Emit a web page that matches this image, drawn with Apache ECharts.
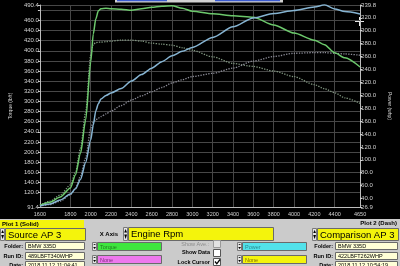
<!DOCTYPE html>
<html><head><meta charset="utf-8">
<script src="https://cdn.jsdelivr.net/npm/echarts@6/dist/echarts.min.js"></script>
<style>html,body{margin:0;padding:0;background:#000;}#c{width:400px;height:266px;}</style>
</head><body><div id="c"></div>
<script>
// ---- data ----
const rpm = [1500,1600,1700,1800,1850,1900,1950,2000,2025,2050,2075,2100,2150,2200,2300,2400,2500,2600,2700,2800,2900,3000,3200,3400,3600,3800,4000,4200,4300,4400,4500,4650];
const torqueSource = [95,101,111,129,155,198,263,378,433,463,479,483,484,483,482,480,483,486,488,489,484,478,473,469,466,451,435,421,412,396,386,368];
const torqueComparison = [95,103,115,135,160,208,279,392,413,416,417,417,418,419,421,421,419,415,413,411,406,401,388,375,369,360,349,333,325,317,307,296];
const powerSource = [28.4,31.5,37.7,47,55,70,96,131,154,176,187,194,199.6,203.5,210.5,222,232,242,252,261,268,274,289.5,306,319.7,326.6,331.3,336.7,340,333.6,329.7,326];
const powerComparison = [28.4,30.8,36,46,56,75,103,149,158,162,164.5,167,171,175.5,184,192.5,199,205.5,212,219,224,229,234,242,253,260,265,266,266,265,264,262];

const xTickValues = [1500,1800,2000,2200,2400,2600,2800,3000,3200,3400,3600,3800,4000,4200,4400,4650];
const xTickLabels = ['1600','1800','2000','2200','2400','2600','2800','3000','3200','3400','3600','3800','4000','4200','4400','4650'];
const torqueTicks = [91.4,120,140,160,180,200,220,240,260,280,300,320,340,360,380,400,420,440,460,480,490.4];
const torqueLabels = [91.4,120,140,160,180,200,220,240,260,280,300,320,340,360,380,400,420,440,460,490.4];
const powerTicks = [26.9,40,60,80,100,120,140,160,180,200,220,240,260,280,300,320,339.8];

const panelTexts = {
  plot1: 'Plot 1 (Solid)', plot2: 'Plot 2 (Dash)',
  source: 'Source AP 3', comparison: 'Comparison AP 3', xAxis: 'X Axis', xChannel: 'Engine Rpm',
  folder1: 'BMW 335D', run1: '489LBFT340WHP', date1: '2018.11.12 11:04:41',
  folder2: 'BMW 335D', run2: '422LBFT262WHP', date2: '2018.11.12 10:54:19',
  ch1: 'Torque', ch2: 'None', ch3: 'Power', ch4: 'None'
};

// ---- helpers for the control panel ----
const F = 'Liberation Sans, Arial, sans-serif';
function rect(x,y,w,h,fill,stroke){return {type:'rect',silent:true,shape:{x:x,y:y,width:w,height:h},style:{fill:fill,stroke:stroke||null,lineWidth:1}};}
function text(x,y,t,size,color,opts){opts=opts||{};return {type:'text',silent:true,style:{x:x,y:y,text:t,fill:color||'#000',font:(opts.weight||'normal')+' '+size+'px '+F,align:opts.align||'left',verticalAlign:'middle'}};}
function spinner(x,y,h){
  const m=y+h/2;
  return [rect(x+0.5,y+0.5,4,h,'#e4e4e4','#7a7a7a'),
    {type:'polygon',silent:true,shape:{points:[[x+1.2,m-1],[x+4,m-1],[x+2.6,y+2]]},style:{fill:'#000'}},
    {type:'polygon',silent:true,shape:{points:[[x+1.2,m+1],[x+4,m+1],[x+2.6,y+h-1]]},style:{fill:'#000'}}];
}
function field(x,y,w,h,fill,t,size,color){return [rect(x+0.5,y+0.5,w,h,fill,'#6a6a6a'),text(x+3,y+h/2+1,t,size,color||'#000')];}

const YEL='#f4f40c', PALE='#ffffd6';
let g = [];
g.push(rect(0,219,400,47,'#cbcbcb'));
// top header strip (cut off in the reference)
g.push(rect(115,0,168,2.5,'#d2d2d2'));
g.push(rect(117,0,50,1.2,'#3a5ad0'));
g.push(rect(215,0,65,1.2,'#3a5ad0'));
// plot 1
g.push(rect(0,220,84,8,YEL));
g.push(text(2,224.5,panelTexts.plot1,6,'#000',{weight:'bold'}));
g = g.concat(spinner(0,228,12));
g = g.concat(field(5,228,80,12,YEL,panelTexts.source,9.5));
// x axis selector
g.push(text(118,234,panelTexts.xAxis,6,'#000',{weight:'bold',align:'right'}));
g = g.concat(spinner(123,227,13));
g = g.concat(field(128,227,145,13,YEL,panelTexts.xChannel,9.5));
// plot 2
g.push(text(397,223.5,panelTexts.plot2,6,'#000',{weight:'bold',align:'right'}));
g = g.concat(spinner(312,228,12));
g = g.concat(field(317,228,81,12,YEL,panelTexts.comparison,9.5));
// left info
g.push(text(23,246,'Folder:',5.5,'#000',{weight:'bold',align:'right'}));
g = g.concat(field(25,242,59,7,PALE,panelTexts.folder1,5.5));
g.push(text(23,256,'Run ID:',5.5,'#000',{weight:'bold',align:'right'}));
g = g.concat(field(25,252,59,7,PALE,panelTexts.run1,5.5));
g.push(text(23,265,'Date:',5.5,'#000',{weight:'bold',align:'right'}));
g = g.concat(field(25,261,59,7,PALE,panelTexts.date1,5.5));
// channel boxes
g = g.concat(spinner(92,242,8));
g = g.concat(field(97,242,64,8,'#3ee63e',panelTexts.ch1,5.5,'#208020'));
g = g.concat(spinner(92,255,8));
g = g.concat(field(97,255,64,8,'#ee78ee',panelTexts.ch2,5.5,'#803080'));
g = g.concat(spinner(237,242,8));
g = g.concat(field(242,242,64,8,'#52e2ea',panelTexts.ch3,5.5,'#2a8a90'));
g = g.concat(spinner(237,255,8));
g = g.concat(field(242,255,64,8,YEL,panelTexts.ch4,5.5,'#807000'));
// checkboxes
g.push(text(209,244,'Show Ave.:',5.5,'#8c8c8c',{align:'right'}));
g.push(rect(213.5,240.5,7,7,'#e2e2e2','#9a9a9a'));
g.push(text(210,252.5,'Show Data',5.5,'#000',{weight:'bold',align:'right'}));
g.push(rect(213.5,249.5,7,7,'#ffffff','#555'));
g.push(text(210,262,'Lock Cursor',5.5,'#000',{weight:'bold',align:'right'}));
g.push(rect(213.5,258.5,7,7,'#ffffff','#555'));
g.push({type:'polyline',silent:true,shape:{points:[[215,261.5],[216.8,263.8],[220,259.5]]},style:{stroke:'#000',lineWidth:1.3,fill:null}});
// right info
g.push(text(333,246,'Folder:',5.5,'#000',{weight:'bold',align:'right'}));
g = g.concat(field(335,242,62,7,PALE,panelTexts.folder2,5.5));
g.push(text(333,256,'Run ID:',5.5,'#000',{weight:'bold',align:'right'}));
g = g.concat(field(335,252,62,7,PALE,panelTexts.run2,5.5));
g.push(text(333,265,'Date:',5.5,'#000',{weight:'bold',align:'right'}));
g = g.concat(field(335,261,62,7,PALE,panelTexts.date2,5.5));
// cursor cross
g.push({type:'line',silent:true,shape:{x1:355,y1:21.5,x2:364,y2:21.5},style:{stroke:'#e8e8e8',lineWidth:1}});
g.push({type:'line',silent:true,shape:{x1:359.5,y1:17,x2:359.5,y2:26},style:{stroke:'#e8e8e8',lineWidth:1}});

const chart = echarts.init(document.getElementById('c'), null, {renderer:'canvas'});
const lbl = '#d2d2d2', grid = '#474747';
function pairs(ys){return rpm.map((r,i)=>[r,ys[i]]);}
chart.setOption({
  backgroundColor:'#000',
  animation:false,
  textStyle:{fontFamily:F},
  grid:{left:28,right:31,top:5,bottom:59,containLabel:false},
  xAxis:{type:'value',min:1500,max:4650,
    axisLine:{show:true,lineStyle:{color:'#bdbdbd'}},
    axisTick:{show:false,customValues:xTickValues},
    axisLabel:{customValues:xTickValues,formatter:v=>xTickLabels[xTickValues.indexOf(v)],color:lbl,fontSize:5.5,margin:4},
    splitLine:{show:true,lineStyle:{color:grid,width:1}}},
  yAxis:[
    {type:'value',min:91.4,max:490.4,position:'left',
      name:'Torque (lbft)',nameLocation:'middle',nameGap:23,nameTextStyle:{color:lbl,fontSize:5},
      axisLine:{show:true,lineStyle:{color:'#bdbdbd'}},
      axisTick:{show:true,length:2,customValues:torqueTicks,lineStyle:{color:lbl}},
      axisLabel:{customValues:torqueLabels,formatter:v=>v.toFixed(1),color:lbl,fontSize:6,margin:1},
      splitLine:{show:true,lineStyle:{color:grid,width:1}}},
    {type:'value',min:26.9,max:339.8,position:'right',
      name:'Power (whp)',nameLocation:'middle',nameGap:22,nameRotate:-90,nameTextStyle:{color:lbl,fontSize:5},
      axisLine:{show:true,lineStyle:{color:'#bdbdbd'}},
      axisTick:{show:true,length:2,customValues:powerTicks,lineStyle:{color:lbl}},
      axisLabel:{customValues:powerTicks,formatter:v=>v.toFixed(1),color:lbl,fontSize:6,margin:1},
      splitLine:{show:false}}
  ],
  series:[
    {name:'Torque (Source)',type:'line',yAxisIndex:0,data:pairs(torqueSource),showSymbol:false,smooth:0.25,smoothMonotone:'x',
      lineStyle:{color:'#6cc86c',width:1.5},z:4},
    {name:'Torque (Comparison)',type:'line',yAxisIndex:0,data:pairs(torqueComparison),showSymbol:false,smooth:0.25,smoothMonotone:'x',
      lineStyle:{color:'#7f957f',width:1.3,type:'dotted'},z:3},
    {name:'Power (Source)',type:'line',yAxisIndex:1,data:pairs(powerSource),showSymbol:false,smooth:0.25,smoothMonotone:'x',
      lineStyle:{color:'#86b4d2',width:1.5},z:4},
    {name:'Power (Comparison)',type:'line',yAxisIndex:1,data:pairs(powerComparison),showSymbol:false,smooth:0.25,smoothMonotone:'x',
      lineStyle:{color:'#8c8c98',width:1.3,type:'dotted'},z:3}
  ],
  graphic:g
});
</script></body></html>
